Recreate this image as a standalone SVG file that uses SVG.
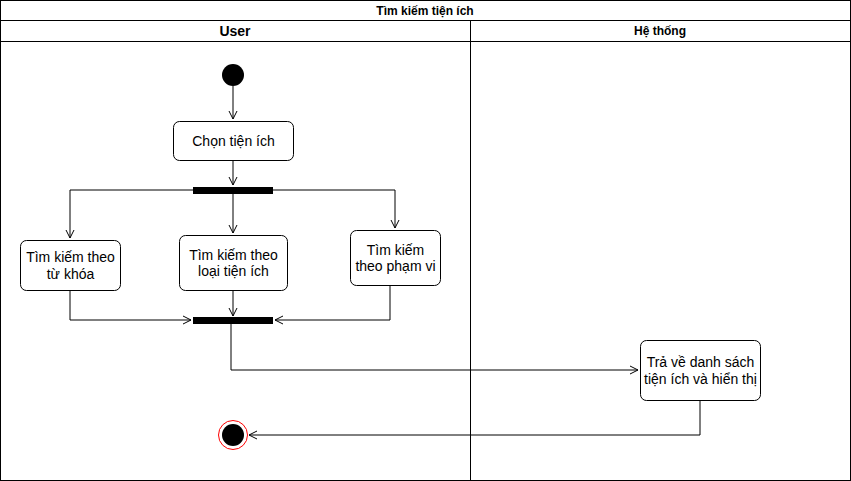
<svg xmlns="http://www.w3.org/2000/svg" width="851" height="481" viewBox="0 0 851 481">
<defs>
<style>
.frame{fill:#fff;stroke:#000;stroke-width:1}
.box{fill:#fff;stroke:#000;stroke-width:1}
.bar{fill:#000;stroke:#000}
.edge{fill:none;stroke:#000;stroke-width:1}
text{font-family:"Liberation Sans",Arial,sans-serif;fill:#000;text-anchor:middle}
.t{font-size:14px}
.h{font-size:12px;font-weight:bold}
.hu{font-size:14px;font-weight:bold}
</style>
<marker id="arr" markerWidth="10" markerHeight="10" refX="9" refY="5" orient="auto" markerUnits="userSpaceOnUse">
<path d="M1,1 L9,5 L1,9" fill="none" stroke="#000" stroke-width="1"/>
</marker>
</defs>
<rect width="851" height="481" fill="#fff"/>
<g id="pool">
<rect class="frame" x="0.5" y="0.5" width="850" height="480"/>
<line class="edge" x1="0.5" y1="20.5" x2="850.5" y2="20.5"/>
<line class="edge" x1="0.5" y1="41.5" x2="850.5" y2="41.5"/>
<line class="edge" x1="470.5" y1="20.5" x2="470.5" y2="480.5"/>
<text class="h" x="425" y="15">Tìm kiếm tiện ích</text>
<text class="hu" x="235" y="36">User</text>
<text class="h" x="660" y="35">Hệ thống</text>
</g>
<g id="connectors">
<path class="edge" d="M233,86 V119" marker-end="url(#arr)"/>
<path class="edge" d="M233,160 V185" marker-end="url(#arr)"/>
<path class="edge" d="M193,190 H70 V238" marker-end="url(#arr)"/>
<path class="edge" d="M233,194 V233" marker-end="url(#arr)"/>
<path class="edge" d="M273,190 H395 V228" marker-end="url(#arr)"/>
<path class="edge" d="M70,290 V320 H191" marker-end="url(#arr)"/>
<path class="edge" d="M233,290 V316" marker-end="url(#arr)"/>
<path class="edge" d="M390,285 V320 H275" marker-end="url(#arr)"/>
<path class="edge" d="M231,323 V370 H638" marker-end="url(#arr)"/>
<path class="edge" d="M700,400 V435 H249" marker-end="url(#arr)"/>
</g>
<g id="start"><circle cx="233" cy="75" r="11" fill="#000"/></g>
<g id="chon"><rect class="box" x="173.5" y="121.5" width="120" height="39" rx="6"/><text class="t" x="233.5" y="145.5">Chọn tiện ích</text></g>
<g id="fork"><rect class="bar" x="193.5" y="187.5" width="79" height="6"/></g>
<g id="tukhoa"><rect class="box" x="20.5" y="240.5" width="100" height="50" rx="6"/><text class="t" x="70.5" y="262">Tìm kiếm theo</text><text class="t" x="70.5" y="278.5">từ khóa</text></g>
<g id="loai"><rect class="box" x="179.5" y="235.5" width="108" height="55" rx="6"/><text class="t" x="233.5" y="259.5">Tìm kiếm theo</text><text class="t" x="233.5" y="276">loại tiện ích</text></g>
<g id="phamvi"><rect class="box" x="350.5" y="230.5" width="90" height="55" rx="6"/><text class="t" x="395.5" y="254.5">Tìm kiếm</text><text class="t" x="395.5" y="271">theo phạm vi</text></g>
<g id="join"><rect class="bar" x="193.5" y="317.5" width="79" height="6"/></g>
<g id="travead"><rect class="box" x="640.5" y="340.5" width="120" height="60" rx="6"/><text class="t" x="700.5" y="366.5">Trả về danh sách</text><text class="t" x="700.5" y="383.5">tiện ích và hiển thị</text></g>
<g id="end"><circle cx="233" cy="435" r="14.5" fill="#fff" stroke="#ff0000" stroke-width="1"/><circle cx="233" cy="435" r="11" fill="#000"/></g>
</svg>
